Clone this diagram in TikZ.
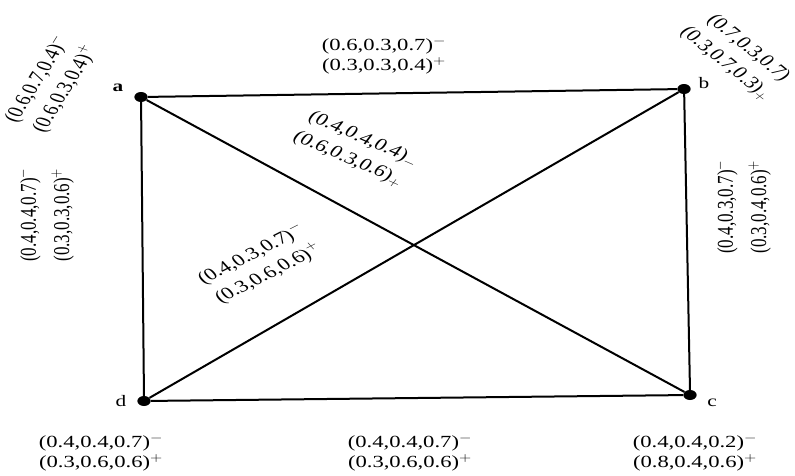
\documentclass[tikz,border=0pt]{standalone}
\usepackage{fontspec}
\setmainfont{Liberation Serif}
\begin{document}
\begin{tikzpicture}[x=0.75188pt, y=-1pt, xscale=1.33,
  every node/.style={transform shape},
  vtx/.style={circle, fill=black, inner sep=0pt, minimum size=10pt},
  vlab/.style={font=\fontsize{16}{18}\selectfont},
  elab/.style={font=\fontsize{17}{20}\selectfont, align=center, inner sep=0pt},
  rlab/.style={font=\fontsize{17}{23}\selectfont, align=center, inner sep=0pt},
  ulab/.style={font=\fontsize{17}{25}\selectfont, align=center, inner sep=0pt},
  edge/.style={line width=2pt}]
\useasboundingbox (0,0) rectangle (795,475);
\node[vtx] (a) at (141,97) {};
\node[vtx] (b) at (684,89) {};
\node[vtx] (c) at (690,395) {};
\node[vtx] (d) at (144,401) {};
\node[vlab] (la) at (118,88) {\textbf{a}};
\node[vlab] (lb) at (704,83) {b};
\node[vlab] (lc) at (712,403) {c};
\node[vlab] (ld) at (121,401) {d};
\draw[edge] (a) -- (b);
\draw[edge] (b) -- (c);
\draw[edge] (c) -- (d);
\draw[edge] (d) -- (a);
\draw[edge] (a) -- (c);
\draw[edge] (b) -- (d);
\node[elab] (tab) at (384,56) {(0.6,0.3,0.7)$^-$\\(0.3,0.3,0.4)$^+$};
\node[rlab, rotate=65] (ta) at (51,84) {(0.6,0.7,0.4)$^-$\\(0.6,0.3,0.4)$^+$};
\node[rlab, rotate=-47] (tb) at (737,56) {(0.7,0.3,0.7)\\(0.3,0.7,0.3)$_+$};
\node[rlab, rotate=-30] (tac) at (356,149) {(0.4,0.4,0.4)$_-$\\(0.6,0.3,0.6)$_+$};
\node[rlab, rotate=34] (tbd) at (260,264) {(0.4,0.3,0.7)$^-$\\(0.3,0.6,0.6)$^+$};
\node[ulab, rotate=90] (tad) at (46,215) {(0.4,0.4,0.7)$^-$\\(0.3,0.3,0.6)$^+$};
\node[ulab, rotate=90] (tbc) at (743,207) {(0.4,0.3,0.7)$^-$\\(0.3,0.4,0.6)$^+$};
\node[elab] (td) at (101,453) {(0.4,0.4,0.7)$^-$\\(0.3,0.6,0.6)$^+$};
\node[elab] (tcd) at (410,453) {(0.4,0.4,0.7)$^-$\\(0.3,0.6,0.6)$^+$};
\node[elab] (tc) at (695,453) {(0.4,0.4,0.2)$^-$\\(0.8,0.4,0.6)$^+$};
\end{tikzpicture}
\end{document}
